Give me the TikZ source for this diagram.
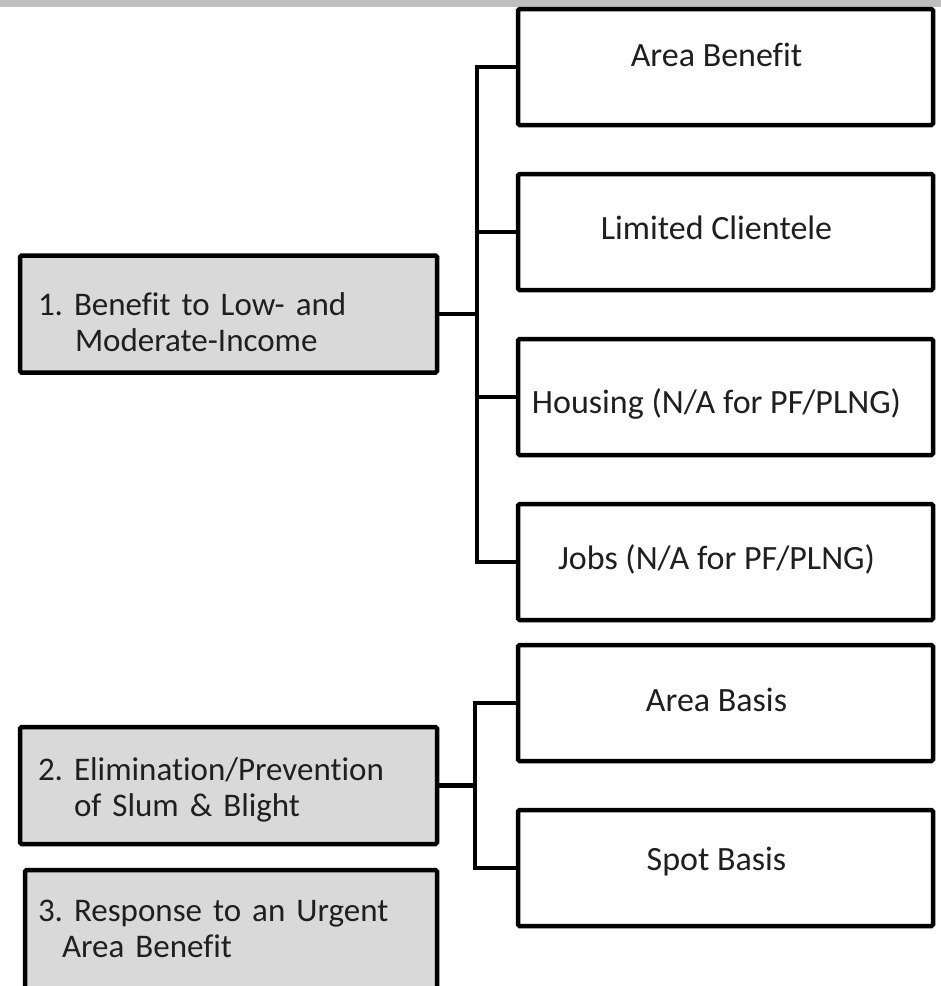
\documentclass[tikz,border=0pt]{standalone}
\usepackage{fontspec}
\setmainfont{Carlito}[Ligatures=NoCommon]
\newfontfamily\lboxfont{Carlito}[Ligatures=NoCommon, WordSpace=0.8]
\definecolor{topbar}{HTML}{BFBFBF}
\definecolor{lfill}{HTML}{D9D9D9}
\begin{document}
\frenchspacing
\begin{tikzpicture}[x=1pt,y=-1pt,
  box/.style={draw=black, line width=4.5pt, rounded corners=1.5pt, inner sep=0pt},
  rbox/.style={box, fill=white, minimum width=415pt, minimum height=116pt},
  rtext/.style={font=\fontsize{34}{38}\selectfont, text=black!88, inner sep=0pt,
    text height=22pt, text depth=0pt, xshift=-9pt},
  lbox/.style={box, fill=lfill, minimum width=417pt, minimum height=117pt},
  ltext/.style={font=\lboxfont\fontsize{33}{36}\selectfont, text=black!88, inner sep=0pt,
    align=left, text width=381pt},
  conn/.style={draw=black, line width=4.5pt, line cap=rect}
]
\useasboundingbox (0,0) rectangle (941,986);
\fill[topbar] (0,0) rectangle (941,7);

% right boxes, tree 1
\node[rbox, label={[rtext, yshift=12pt]center:Area Benefit}] (ab) at (725.5,67) {};
\node[rbox, label={[rtext, yshift=3.5pt]center:Limited Clientele}] (lc) at (725.5,232) {};
\node[rbox, label={[rtext, yshift=-5pt]center:Housing (N/A for PF/PLNG)}] (ho) at (725.5,397) {};
\node[rbox, label={[rtext, yshift=3.5pt]center:Jobs (N/A for PF/PLNG)}] (jo) at (725.5,562) {};
% right boxes, tree 2
\node[rbox, label={[rtext, yshift=2.5pt]center:Area Basis}] (aba) at (725.5,703) {};
\node[rbox, label={[rtext, yshift=9pt]center:Spot Basis}] (sba) at (725.5,868) {};

% left boxes
\node[lbox, label={[ltext, yshift=-8pt]center:1. Benefit to Low- and\\\hspace*{37pt}Moderate-Income}] (b1) at (228.5,314) {};
\node[lbox, label={[ltext, yshift=-4.5pt]center:2. Elimination/Prevention\\\hspace*{36pt}of Slum \& Blight}] (b2) at (228.5,785.5) {};
\node[lbox, minimum width=412pt, minimum height=120pt,
  label={[ltext, text width=386pt, yshift=1pt]center:3. Response to an Urgent\\\hspace*{24pt}Area Benefit}] (b3) at (231,930) {};

% tree 1 connectors
\coordinate (h1) at (477,314);
\draw[conn] (b1.east) -- (h1);
\draw[conn] (h1 |- ab.west) -- (h1 |- jo.west);
\foreach \n in {ab,lc,ho,jo} \draw[conn] (h1 |- \n.west) -- (\n.west);

% tree 2 connectors
\coordinate (h2) at (475,785.5);
\draw[conn] (b2.east) -- (h2);
\draw[conn] (h2 |- aba.west) -- (h2 |- sba.west);
\foreach \n in {aba,sba} \draw[conn] (h2 |- \n.west) -- (\n.west);
\end{tikzpicture}
\end{document}
